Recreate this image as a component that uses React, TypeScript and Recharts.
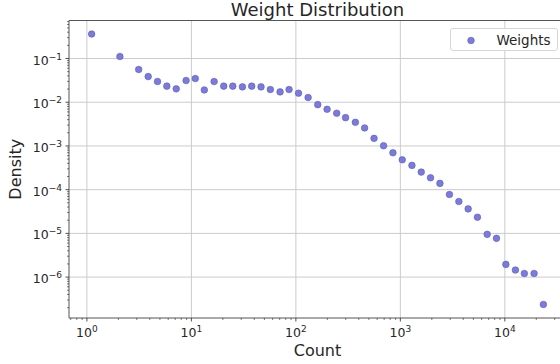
import React from 'react';
import { ScatterChart, Scatter, XAxis, YAxis, ReferenceLine, Legend } from 'recharts';

// ---- data ----
const counts = [
  1.11, 2.07, 3.13, 3.86, 4.74, 5.82, 7.16, 8.9, 10.9, 13.3,
  16.5, 20.4, 24.9, 30.8, 37.8, 46.4, 57, 70.6, 86.1, 106,
  131, 162, 199, 246, 299, 371, 455, 560, 691, 849,
  1043, 1291, 1585, 1945, 2392, 2951, 3631, 4457, 5470, 6780,
  8318, 10230, 12620, 15380, 19050, 23390,
];
const densities = [
  0.363, 0.111, 0.056, 0.0386, 0.0297, 0.0233, 0.0202, 0.0313, 0.0348, 0.0191,
  0.0297, 0.0233, 0.0233, 0.0224, 0.0233, 0.0224, 0.0195, 0.0172, 0.0195, 0.0161,
  0.0128, 0.0088, 0.0069, 0.0056, 0.00444, 0.00347, 0.00258, 0.00149, 0.00101, 0.000698,
  0.000482, 0.000359, 0.000252, 0.000187, 0.000139, 7.76e-5, 5.36e-5, 3.63e-5, 2.34e-5, 9.5e-6,
  7.7e-6, 1.95e-6, 1.45e-6, 1.21e-6, 1.21e-6, 2.37e-7,
];
const xMajorTicks = [1, 10, 100, 1000, 10000];
const yMajorTicks = [1e-6, 1e-5, 1e-4, 1e-3, 1e-2, 1e-1];
const xDomain = [0.674, 38500];
const yDomain = [1.16e-7, 0.74];
const title = 'Weight Distribution';
const xLabel = 'Count';
const yLabel = 'Density';
const seriesName = 'Weights';

const FONT = '"DejaVu Sans", sans-serif';
const INK = '#262626';
const DOT_FILL = '#7a7adf';
const DOT_STROKE = '#5c5cb8';

const data = counts.map((c, i) => ({ count: c, density: densities[i] }));

const minorTicks = (lo: number, hi: number) => {
  const out: number[] = [];
  for (let e = Math.floor(Math.log10(lo)); e <= Math.ceil(Math.log10(hi)); e++) {
    for (let m = 1; m <= 9; m++) {
      const v = parseFloat((m * Math.pow(10, e)).toPrecision(6));
      if (v >= lo && v <= hi) out.push(v);
    }
  }
  return out;
};
const xTicks = minorTicks(xDomain[0], xDomain[1]);
const yTicks = minorTicks(yDomain[0], yDomain[1]);

const isMajor = (v: number) => {
  const l = Math.log10(v);
  return Math.abs(l - Math.round(l)) < 1e-6;
};
const expStr = (v: number) => {
  const e = Math.round(Math.log10(v));
  return e < 0 ? '\u2212' + -e : String(e);
};

const XTick = (props: any) => {
  const { x, y, payload } = props;
  const v = payload.value;
  if (!isMajor(v)) {
    return <line x1={x} x2={x} y1={y} y2={y + 2} stroke={INK} strokeWidth={0.6} />;
  }
  return (
    <g>
      <line x1={x} x2={x} y1={y} y2={y + 3.5} stroke={INK} strokeWidth={0.8} />
      <text x={x} y={y + 19} textAnchor="middle" fontSize={12.5} fill={INK} fontFamily={FONT}>
        <tspan>10</tspan>
        <tspan dy={-5} fontSize={9}>{expStr(v)}</tspan>
      </text>
    </g>
  );
};

const YTick = (props: any) => {
  const { x, y, payload } = props;
  const v = payload.value;
  if (!isMajor(v)) {
    return <line x1={x - 2} x2={x} y1={y} y2={y} stroke={INK} strokeWidth={0.6} />;
  }
  return (
    <g>
      <line x1={x - 3.5} x2={x} y1={y} y2={y} stroke={INK} strokeWidth={0.8} />
      <text x={x - 7} y={y + 6} textAnchor="end" fontSize={12.5} fill={INK} fontFamily={FONT}>
        <tspan>10</tspan>
        <tspan dy={-5} fontSize={9}>{expStr(v)}</tspan>
      </text>
    </g>
  );
};

const Dot = (props: any) => (
  <circle cx={props.cx} cy={props.cy} r={3.3} fill={DOT_FILL} stroke={DOT_STROKE} strokeWidth={0.6} />
);

const LegendBox = () => (
  <div
    style={{
      width: 106,
      height: 21,
      border: '1px solid #d6d6d6',
      borderRadius: 3,
      background: 'rgba(255,255,255,0.85)',
      position: 'relative',
      fontFamily: FONT,
    }}
  >
    <svg width={106} height={21} style={{ position: 'absolute', left: 0, top: 0 }}>
      <circle cx={20} cy={11.5} r={3.3} fill={DOT_FILL} stroke={DOT_STROKE} strokeWidth={0.6} />
      <text x={45.5} y={15.5} fontSize={13.5} fill={INK} fontFamily={FONT}>{seriesName}</text>
    </svg>
  </div>
);

export default function App() {
  return (
    <div style={{ position: 'absolute', left: 0, top: 0, width: 560, height: 364, overflow: 'hidden', background: '#fff' }}>
      <ScatterChart width={566} height={364} margin={{ top: 20.5, right: 0, bottom: 0, left: 0 }}>
        {xMajorTicks.map((v) => (
          <ReferenceLine key={'gx' + v} x={v} stroke="#cbcbcb" strokeWidth={1} />
        ))}
        {yMajorTicks.map((v) => (
          <ReferenceLine key={'gy' + v} y={v} stroke="#cbcbcb" strokeWidth={1} />
        ))}
        <ReferenceLine y={yDomain[1]} stroke="#555" strokeWidth={1} />
        <XAxis
          type="number"
          dataKey="count"
          scale="log"
          domain={xDomain}
          allowDataOverflow
          ticks={xTicks}
          interval={0}
          tickSize={0}
          tickMargin={0}
          tickLine={false}
          tick={<XTick />}
          height={46}
          axisLine={{ stroke: '#555', strokeWidth: 1 }}
          label={(p: any) => {
            const vb = p.viewBox || {};
            const cx = vb.x + vb.width / 2;
            return (
              <g>
                <text x={cx} y={356} textAnchor="middle" fontSize={16} fill={INK} fontFamily={FONT}>
                  {xLabel}
                </text>
                <text x={cx} y={15.7} textAnchor="middle" fontSize={18} fill={INK} fontFamily={FONT}>
                  {title}
                </text>
              </g>
            );
          }}
        />
        <YAxis
          type="number"
          dataKey="density"
          scale="log"
          domain={yDomain}
          allowDataOverflow
          ticks={yTicks}
          interval={0}
          tickSize={0}
          tickMargin={0}
          tickLine={false}
          tick={<YTick />}
          width={69}
          axisLine={{ stroke: '#555', strokeWidth: 1 }}
          label={(p: any) => {
            const vb = p.viewBox || {};
            const cy = vb.y + vb.height / 2;
            return (
              <text x={21} y={cy} transform={`rotate(-90 21 ${cy})`} textAnchor="middle" fontSize={16} fill={INK} fontFamily={FONT}>
                {yLabel}
              </text>
            );
          }}
        />
        <Legend
          layout="horizontal"
          align="center"
          verticalAlign="middle"
          wrapperStyle={{ top: 28, left: 450, width: 108, height: 23 }}
          content={() => <LegendBox />}
        />
        <Scatter name={seriesName} data={data} shape={<Dot />} isAnimationActive={false} />
      </ScatterChart>
    </div>
  );
}
